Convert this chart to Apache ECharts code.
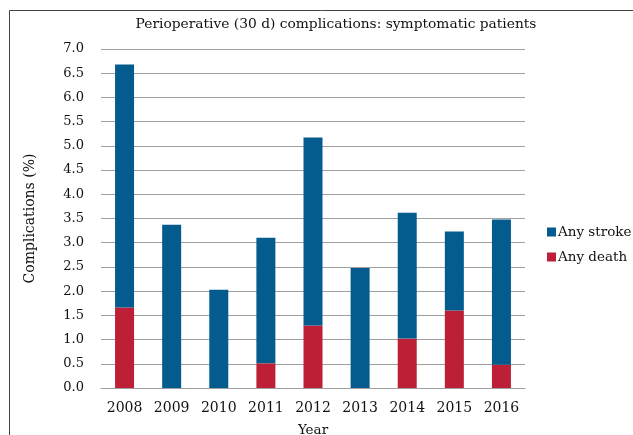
<!DOCTYPE html>
<html><head><meta charset="utf-8">
<script src="https://cdn.jsdelivr.net/npm/echarts@6/dist/echarts.min.js"></script>
<style>html,body{margin:0;padding:0;background:#fff}#c{width:633px;height:435px}</style>
</head><body><div id="c"></div>
<script>
const years = ['2008','2009','2010','2011','2012','2013','2014','2015','2016'];
// stacked segment values (%)
const anyDeath = [1.66, 0, 0, 0.51, 1.29, 0, 1.02, 1.60, 0.48];
const anyStroke = [5.02, 3.37, 2.03, 2.59, 3.88, 2.48, 2.60, 1.63, 3.00];
const yTicks = {min: 0, max: 7, step: 0.5};
const titleText = 'Perioperative (30 d) complications: symptomatic patients';

const chart = echarts.init(document.getElementById('c'), null, {renderer: 'canvas'});
const serif = 'DejaVu Serif';
chart.setOption({
  animation: false,
  backgroundColor: '#fff',
  title: {text: titleText, left: 331, top: 12, textAlign: 'center',
    textStyle: {fontFamily: serif, fontSize: 13.8, fontWeight: 'normal', color: '#111'}},
  grid: {left: 101, right: 108, top: 49, bottom: 47, outerBoundsMode: 'none', containLabel: false},
  legend: {orient: 'vertical', left: 542, top: 220, itemWidth: 9, itemHeight: 9, itemGap: 11,
    icon: 'rect', data: ['Any stroke', 'Any death'],
    textStyle: {fontFamily: serif, fontSize: 13.5, color: '#111', padding: [0,0,0,-3]}},
  xAxis: {type: 'category', data: years, name: 'Year', nameLocation: 'middle', nameGap: 35,
    nameTextStyle: {fontFamily: serif, fontSize: 13.5, color: '#111'},
    axisTick: {show: false}, axisLine: {lineStyle: {color: '#a0a0a0', width: 1}},
    axisLabel: {fontFamily: serif, fontSize: 14, color: '#111', margin: 13}},
  yAxis: {type: 'value', min: yTicks.min, max: yTicks.max, interval: yTicks.step,
    name: 'Complications (%)', nameLocation: 'middle', nameGap: 64,
    nameTextStyle: {fontFamily: serif, fontSize: 14, color: '#111'},
    axisLine: {show: false}, axisTick: {show: false},
    splitLine: {lineStyle: {color: '#a0a0a0', width: 1}},
    axisLabel: {fontFamily: serif, fontSize: 13, color: '#111', margin: 17,
      formatter: v => v.toFixed(1)}},
  series: [
    {name: 'Any death', type: 'bar', stack: 't', data: anyDeath, barWidth: 19,
      itemStyle: {color: '#bd1f36'}},
    {name: 'Any stroke', type: 'bar', stack: 't', data: anyStroke, barWidth: 19,
      itemStyle: {color: '#045c8e'}}
  ],
  graphic: [{type: 'polyline', shape: {points: [[9.5, 440], [9.5, 10.5], [640, 10.5]]},
    style: {stroke: '#444', lineWidth: 1, fill: null}}]
});
</script></body></html>
